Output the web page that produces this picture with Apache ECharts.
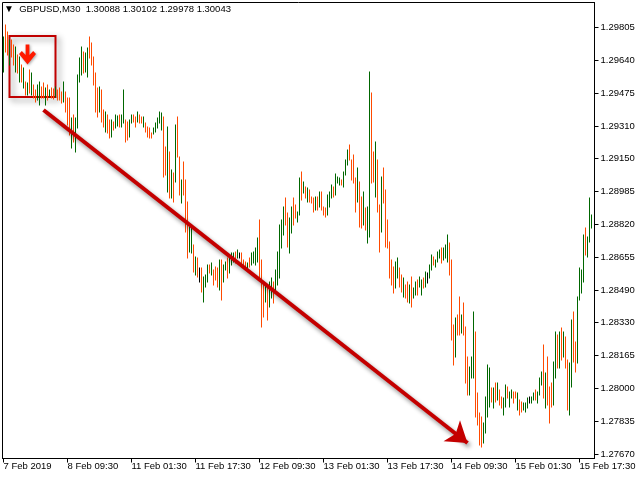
<!DOCTYPE html>
<html><head><meta charset="utf-8">
<script src="https://cdn.jsdelivr.net/npm/echarts@6/dist/echarts.min.js"></script>
<style>html,body{margin:0;padding:0;background:#fff}#c{width:640px;height:480px}</style>
</head><body><div id="c"></div>
<script>
const headerText = 'GBPUSD,M30  1.30088 1.30102 1.29978 1.30043';
const tickIndex = [0, 32, 64, 96, 128, 160, 192, 224, 256, 288];
const tickLabels = ['7 Feb 2019', '8 Feb 09:30', '11 Feb 01:30', '11 Feb 17:30', '12 Feb 09:30', '13 Feb 01:30', '13 Feb 17:30', '14 Feb 09:30', '15 Feb 01:30', '15 Feb 17:30'];
const priceTicks = [1.29805, 1.29640, 1.29475, 1.29310, 1.29150, 1.28985, 1.28820, 1.28655, 1.28490, 1.28330, 1.28165, 1.28000, 1.27835, 1.27670];

const open = [
1.29587,1.29812,1.29777,1.29622,1.29737,1.29712,1.29587,1.29662,1.29537,1.29612,
1.29507,1.29527,1.29472,1.29587,1.29472,1.29512,1.29487,1.29447,1.29422,1.29502,
1.29522,1.29422,1.29512,1.29462,1.29497,1.29492,1.29462,1.29487,1.29497,1.29477,
1.29437,1.29477,1.29447,1.29447,1.29207,1.29362,1.29187,1.29307,1.29537,1.29572,
1.29677,1.29587,1.29562,1.29752,1.29722,1.29652,1.29572,1.29497,1.29387,1.29487,
1.29387,1.29287,1.29362,1.29337,1.29262,1.29327,1.29307,1.29317,1.29362,1.29312,
1.29332,1.29337,1.29327,1.29262,1.29332,1.29362,1.29352,1.29337,1.29362,1.29352,
1.29312,1.29322,1.29302,1.29297,1.29272,1.29277,1.29287,1.29307,1.29332,1.29297,
1.29352,1.29202,1.28987,1.29177,1.28957,1.29072,1.29037,1.29352,1.29152,1.28932,
1.29127,1.29037,1.28927,1.28687,1.28682,1.28712,1.28572,1.28647,1.28567,1.28597,
1.28437,1.28512,1.28537,1.28612,1.28572,1.28587,1.28602,1.28597,1.28497,1.28637,
1.28537,1.28597,1.28647,1.28582,1.28622,1.28637,1.28677,1.28657,1.28665,1.28672,
1.28637,1.28627,1.28607,1.28647,1.28622,1.28632,1.28622,1.28637,1.28837,1.28637,
1.28527,1.28437,1.28497,1.28412,1.28457,1.28527,1.28487,1.28522,1.28557,1.28707,
1.28772,1.28947,1.28872,1.28682,1.28782,1.28947,1.28912,1.28837,1.28872,1.29077,
1.28982,1.29002,1.28937,1.28987,1.28952,1.28947,1.28897,1.28952,1.28912,1.28977,
1.28902,1.28897,1.28872,1.28912,1.28957,1.29002,1.28972,1.29032,1.29022,1.29037,
1.29012,1.29072,1.29122,1.29212,1.29137,1.29162,1.29047,1.28937,1.29027,1.28952,
1.28822,1.28897,1.28732,1.28770,1.29470,1.29177,1.28962,1.29137,1.28912,1.28787,
1.29097,1.28987,1.28837,1.28727,1.28637,1.28602,1.28507,1.28557,1.28597,1.28562,
1.28462,1.28512,1.28527,1.28432,1.28552,1.28457,1.28472,1.28537,1.28512,1.28472,
1.28547,1.28512,1.28552,1.28557,1.28597,1.28652,1.28612,1.28637,1.28657,1.28697,
1.28647,1.28657,1.28637,1.28722,1.28637,1.28312,1.28162,1.28362,1.28452,1.28282,
1.28422,1.28302,1.28152,1.27972,1.28057,1.28057,1.28277,1.27972,1.27872,1.27852,
1.27732,1.27782,1.27862,1.27912,1.27997,1.27907,1.28022,1.27947,1.27987,1.27952,
1.27872,1.27912,1.28002,1.27912,1.27957,1.27977,1.27977,1.27897,1.27937,1.27927,
1.27897,1.27887,1.27907,1.27942,1.27932,1.27947,1.27987,1.27932,1.27972,1.28022,
1.28212,1.27907,1.28152,1.28002,1.28022,1.27922,1.28057,1.28262,1.28107,1.28297,
1.28162,1.28252,1.28137,1.27872,1.28012,1.28377,1.28227,1.28132,1.28447,1.28482,
1.28537,1.28797,1.28662,1.28737,1.28807];

const high = [
1.29757,1.29817,1.29782,1.29742,1.29742,1.29717,1.29707,1.29667,1.29657,1.29617,
1.29602,1.29532,1.29527,1.29592,1.29577,1.29517,1.29492,1.29517,1.29532,1.29507,
1.29527,1.29502,1.29517,1.29492,1.29502,1.29497,1.29507,1.29492,1.29502,1.29482,
1.29532,1.29482,1.29452,1.29452,1.29352,1.29367,1.29352,1.29567,1.29652,1.29707,
1.29682,1.29677,1.29702,1.29757,1.29727,1.29657,1.29577,1.29502,1.29507,1.29492,
1.29392,1.29382,1.29367,1.29342,1.29342,1.29332,1.29367,1.29362,1.29367,1.29367,
1.29492,1.29342,1.29332,1.29342,1.29367,1.29367,1.29357,1.29382,1.29367,1.29357,
1.29357,1.29327,1.29307,1.29302,1.29277,1.29302,1.29327,1.29352,1.29382,1.29377,
1.29357,1.29207,1.29307,1.29182,1.29092,1.29077,1.29317,1.29357,1.29157,1.29042,
1.29132,1.29042,1.28932,1.28807,1.28802,1.28717,1.28657,1.28652,1.28602,1.28602,
1.28557,1.28567,1.28617,1.28617,1.28627,1.28592,1.28607,1.28602,1.28642,1.28642,
1.28617,1.28632,1.28652,1.28667,1.28677,1.28677,1.28682,1.28692,1.28677,1.28677,
1.28642,1.28632,1.28627,1.28652,1.28677,1.28682,1.28702,1.28752,1.28842,1.28642,
1.28532,1.28517,1.28502,1.28532,1.28552,1.28532,1.28592,1.28682,1.28817,1.28842,
1.28907,1.28952,1.28877,1.28852,1.28907,1.28952,1.28917,1.28882,1.29052,1.29082,
1.29032,1.29007,1.29002,1.28992,1.28957,1.28952,1.28957,1.28957,1.28982,1.28982,
1.28907,1.28902,1.28967,1.28982,1.29017,1.29007,1.29072,1.29057,1.29052,1.29042,
1.29082,1.29142,1.29192,1.29217,1.29142,1.29167,1.29052,1.29102,1.29032,1.28957,
1.28982,1.28902,1.28907,1.29582,1.29477,1.29182,1.29232,1.29142,1.28917,1.29057,
1.29102,1.28992,1.28842,1.28732,1.28642,1.28607,1.28632,1.28652,1.28602,1.28567,
1.28552,1.28517,1.28532,1.28517,1.28557,1.28502,1.28532,1.28542,1.28557,1.28542,
1.28552,1.28582,1.28577,1.28617,1.28667,1.28657,1.28642,1.28682,1.28692,1.28702,
1.28702,1.28717,1.28767,1.28727,1.28642,1.28317,1.28352,1.28367,1.28457,1.28367,
1.28427,1.28307,1.28157,1.28107,1.28157,1.28382,1.28282,1.27977,1.27877,1.27857,
1.27827,1.27957,1.28117,1.28102,1.28002,1.28002,1.28027,1.28027,1.27992,1.27957,
1.27952,1.28017,1.28007,1.27982,1.27992,1.27982,1.27982,1.27977,1.27942,1.27932,
1.27927,1.27927,1.27952,1.27957,1.27957,1.27977,1.27992,1.27982,1.28052,1.28082,
1.28217,1.28077,1.28157,1.28007,1.28027,1.28132,1.28282,1.28267,1.28282,1.28302,
1.28282,1.28257,1.28142,1.28127,1.28342,1.28382,1.28232,1.28457,1.28602,1.28592,
1.28767,1.28802,1.28757,1.28952,1.28867];

const low = [
1.29582,1.29682,1.29667,1.29617,1.29657,1.29617,1.29582,1.29577,1.29532,1.29532,
1.29502,1.29467,1.29467,1.29477,1.29467,1.29452,1.29432,1.29442,1.29417,1.29452,
1.29452,1.29417,1.29442,1.29457,1.29452,1.29447,1.29457,1.29442,1.29442,1.29427,
1.29432,1.29382,1.29317,1.29267,1.29202,1.29232,1.29182,1.29302,1.29532,1.29567,
1.29577,1.29582,1.29557,1.29652,1.29617,1.29517,1.29382,1.29357,1.29382,1.29332,
1.29307,1.29282,1.29277,1.29252,1.29257,1.29292,1.29302,1.29312,1.29307,1.29307,
1.29327,1.29232,1.29242,1.29257,1.29327,1.29332,1.29307,1.29332,1.29327,1.29327,
1.29307,1.29282,1.29257,1.29252,1.29252,1.29272,1.29282,1.29302,1.29327,1.29292,
1.29057,1.29067,1.28982,1.28952,1.28952,1.28932,1.29032,1.29157,1.28967,1.28927,
1.28967,1.28782,1.28652,1.28682,1.28677,1.28582,1.28567,1.28557,1.28532,1.28482,
1.28432,1.28507,1.28532,1.28577,1.28567,1.28517,1.28542,1.28507,1.28492,1.28442,
1.28532,1.28592,1.28552,1.28577,1.28617,1.28632,1.28627,1.28652,1.28652,1.28617,
1.28607,1.28592,1.28602,1.28607,1.28617,1.28627,1.28617,1.28632,1.28552,1.28307,
1.28357,1.28432,1.28342,1.28407,1.28452,1.28427,1.28482,1.28517,1.28552,1.28702,
1.28767,1.28817,1.28707,1.28677,1.28777,1.28817,1.28852,1.28832,1.28867,1.28942,
1.28977,1.28952,1.28932,1.28932,1.28927,1.28882,1.28892,1.28892,1.28907,1.28892,
1.28867,1.28857,1.28867,1.28907,1.28952,1.28957,1.28967,1.29027,1.29017,1.29017,
1.29007,1.29067,1.29117,1.29142,1.29042,1.29027,1.28882,1.28932,1.28807,1.28802,
1.28817,1.28792,1.28727,1.28757,1.29027,1.29032,1.28957,1.28882,1.28682,1.28782,
1.28927,1.28707,1.28702,1.28552,1.28517,1.28477,1.28502,1.28552,1.28507,1.28482,
1.28457,1.28452,1.28432,1.28427,1.28407,1.28452,1.28467,1.28467,1.28507,1.28467,
1.28502,1.28507,1.28527,1.28552,1.28592,1.28617,1.28607,1.28632,1.28652,1.28627,
1.28642,1.28652,1.28632,1.28567,1.28242,1.28117,1.28157,1.28267,1.28267,1.28277,
1.28267,1.28027,1.27967,1.27967,1.28052,1.28052,1.27857,1.27817,1.27717,1.27707,
1.27727,1.27777,1.27857,1.27907,1.27932,1.27902,1.27932,1.27942,1.27917,1.27902,
1.27867,1.27907,1.27952,1.27907,1.27952,1.27927,1.27952,1.27892,1.27867,1.27882,
1.27892,1.27882,1.27902,1.27927,1.27927,1.27942,1.27942,1.27927,1.27967,1.28017,
1.27952,1.27902,1.27917,1.27827,1.27907,1.27917,1.28052,1.28102,1.28102,1.28142,
1.28157,1.28102,1.27892,1.27867,1.28007,1.28132,1.28082,1.28127,1.28442,1.28477,
1.28532,1.28667,1.28657,1.28732,1.28802];

const close = [
1.29752,1.29687,1.29672,1.29737,1.29662,1.29622,1.29702,1.29582,1.29652,1.29537,
1.29597,1.29472,1.29522,1.29482,1.29572,1.29457,1.29437,1.29512,1.29527,1.29457,
1.29457,1.29497,1.29447,1.29487,1.29457,1.29452,1.29502,1.29447,1.29447,1.29432,
1.29527,1.29387,1.29322,1.29272,1.29347,1.29237,1.29347,1.29562,1.29647,1.29702,
1.29582,1.29672,1.29697,1.29657,1.29622,1.29522,1.29387,1.29362,1.29502,1.29337,
1.29312,1.29377,1.29282,1.29257,1.29337,1.29297,1.29362,1.29357,1.29312,1.29362,
1.29487,1.29237,1.29247,1.29337,1.29362,1.29337,1.29312,1.29377,1.29332,1.29332,
1.29352,1.29287,1.29262,1.29257,1.29257,1.29297,1.29322,1.29347,1.29377,1.29372,
1.29062,1.29072,1.29302,1.28957,1.29087,1.28937,1.29312,1.29162,1.28972,1.29037,
1.28972,1.28787,1.28657,1.28802,1.28797,1.28587,1.28652,1.28562,1.28567,1.28487,
1.28552,1.28562,1.28612,1.28582,1.28622,1.28522,1.28547,1.28512,1.28637,1.28447,
1.28612,1.28627,1.28557,1.28662,1.28672,1.28672,1.28632,1.28687,1.28665,1.28622,
1.28612,1.28597,1.28622,1.28612,1.28672,1.28677,1.28697,1.28747,1.28557,1.28312,
1.28362,1.28512,1.28347,1.28527,1.28547,1.28432,1.28587,1.28677,1.28812,1.28837,
1.28902,1.28822,1.28712,1.28847,1.28902,1.28822,1.28857,1.28877,1.29047,1.28947,
1.29027,1.28957,1.28997,1.28937,1.28932,1.28887,1.28952,1.28897,1.28977,1.28897,
1.28872,1.28862,1.28962,1.28977,1.29012,1.28962,1.29067,1.29052,1.29047,1.29022,
1.29077,1.29137,1.29187,1.29147,1.29047,1.29032,1.28887,1.29097,1.28812,1.28807,
1.28977,1.28797,1.28902,1.29470,1.29040,1.29037,1.29227,1.28887,1.28687,1.29052,
1.28932,1.28712,1.28707,1.28557,1.28522,1.28482,1.28627,1.28647,1.28512,1.28487,
1.28547,1.28457,1.28437,1.28512,1.28412,1.28497,1.28527,1.28472,1.28552,1.28537,
1.28507,1.28577,1.28552,1.28612,1.28662,1.28622,1.28637,1.28677,1.28687,1.28632,
1.28697,1.28712,1.28762,1.28572,1.28247,1.28122,1.28347,1.28272,1.28272,1.28362,
1.28272,1.28032,1.27972,1.28102,1.28152,1.28377,1.27862,1.27822,1.27722,1.27712,
1.27822,1.27952,1.28112,1.28097,1.27937,1.27997,1.27937,1.28022,1.27922,1.27907,
1.27947,1.28012,1.27957,1.27977,1.27987,1.27932,1.27957,1.27972,1.27872,1.27887,
1.27922,1.27922,1.27947,1.27942,1.27952,1.27972,1.27947,1.27977,1.28047,1.28077,
1.27957,1.28072,1.27922,1.27832,1.27912,1.28127,1.28277,1.28107,1.28277,1.28147,
1.28277,1.28107,1.27897,1.28122,1.28337,1.28137,1.28087,1.28452,1.28597,1.28587,
1.28762,1.28672,1.28752,1.28947,1.28862];

const UP = '#006600', DOWN = '#ff4a00', DOJI = '#000000';
const FONT = '"Liberation Sans", Arial, sans-serif';
const categories = open.map((_, i) => i).concat([open.length]);
const bars = open.map((o, i) => [i, o, close[i], low[i], high[i]]);

const chart = echarts.init(document.getElementById('c'), null, {renderer: 'canvas'});
chart.setOption({
  animation: false,
  backgroundColor: '#ffffff',
  title: {
    text: '{t|▼}  ' + headerText,
    left: 4, top: 4, padding: 0,
    textStyle: {fontFamily: FONT, fontSize: 9.5, fontWeight: 'normal', color: '#000',
      rich: {t: {fontSize: 10, color: '#000'}}}
  },
  grid: {left: 2.5, top: 2.5, width: 592, height: 456, show: true, borderColor: '#000', borderWidth: 1, backgroundColor: '#fff'},
  xAxis: {
    type: 'category', data: categories, boundaryGap: true,
    axisLine: {show: true, lineStyle: {color: '#000', width: 1}},
    axisTick: {show: true, alignWithLabel: true, length: 4, lineStyle: {color: '#000'},
      interval: (idx) => tickIndex.indexOf(idx) >= 0},
    axisLabel: {show: true, align: 'left', margin: 3, color: '#000', fontFamily: FONT, fontSize: 9.5,
      interval: (idx) => tickIndex.indexOf(idx) >= 0,
      formatter: (v, idx) => { const k = tickIndex.indexOf(idx); return k >= 0 ? tickLabels[k] : ''; }},
    splitLine: {show: false}
  },
  yAxis: {
    type: 'value', position: 'right', min: 1.276495, max: 1.299295, scale: true,
    axisLine: {show: true, lineStyle: {color: '#000', width: 1}},
    axisTick: {show: true, length: 4, lineStyle: {color: '#000'}, customValues: priceTicks},
    axisLabel: {show: true, margin: 6, color: '#000', fontFamily: FONT, fontSize: 9.5,
      customValues: priceTicks, formatter: (v) => v.toFixed(5)},
    splitLine: {show: false}
  },
  series: [
    {
      type: 'custom', name: 'GBPUSD', data: bars,
      encode: {x: 0, y: [1, 2, 3, 4]},
      renderItem: (params, api) => {
        const i = api.value(0), o = api.value(1), c = api.value(2);
        const pHigh = api.coord([i, api.value(4)]);
        const pLow = api.coord([i, api.value(3)]);
        const col = c > o ? UP : (c < o ? DOWN : DOJI);
        return {type: 'line', silent: true,
          shape: {x1: pHigh[0], y1: pHigh[1] - 0.5, x2: pLow[0], y2: pLow[1] + 0.5},
          style: {stroke: col, lineWidth: 1}};
      }
    },
    {
      type: 'line', data: [], silent: true,
      markArea: {
        silent: true,
        itemStyle: {color: 'rgba(0,0,0,0)', borderColor: '#c00000', borderWidth: 2,
          shadowBlur: 6, shadowColor: 'rgba(0,0,0,0.45)', shadowOffsetX: 3, shadowOffsetY: 3},
        label: {show: false},
        data: [[{coord: [3, 1.29762]}, {coord: [26, 1.29457]}]]
      },
      markLine: {
        silent: true, symbol: ['none', 'arrow'], symbolSize: 20,
        label: {show: false},
        lineStyle: {color: '#c40000', width: 4, type: 'solid',
          shadowBlur: 4, shadowColor: 'rgba(0,0,0,0.45)', shadowOffsetX: 2, shadowOffsetY: 3},
        data: [[{coord: [20, 1.29392]}, {coord: [232, 1.27727]}]]
      },
      markPoint: {
        silent: true,
        symbol: 'path://M7,0 L11,0 L11,11 L15,7 L18,10 L9,21 L0,10 L3,7 L7,11 Z',
        symbolSize: [17, 20], symbolKeepAspect: false,
        itemStyle: {color: '#ff1a00', shadowBlur: 3, shadowColor: 'rgba(0,0,0,0.35)', shadowOffsetX: 1, shadowOffsetY: 1},
        label: {show: false},
        data: [{coord: [12, 1.29670]}]
      }
    }
  ]
});
</script>
</body></html>
